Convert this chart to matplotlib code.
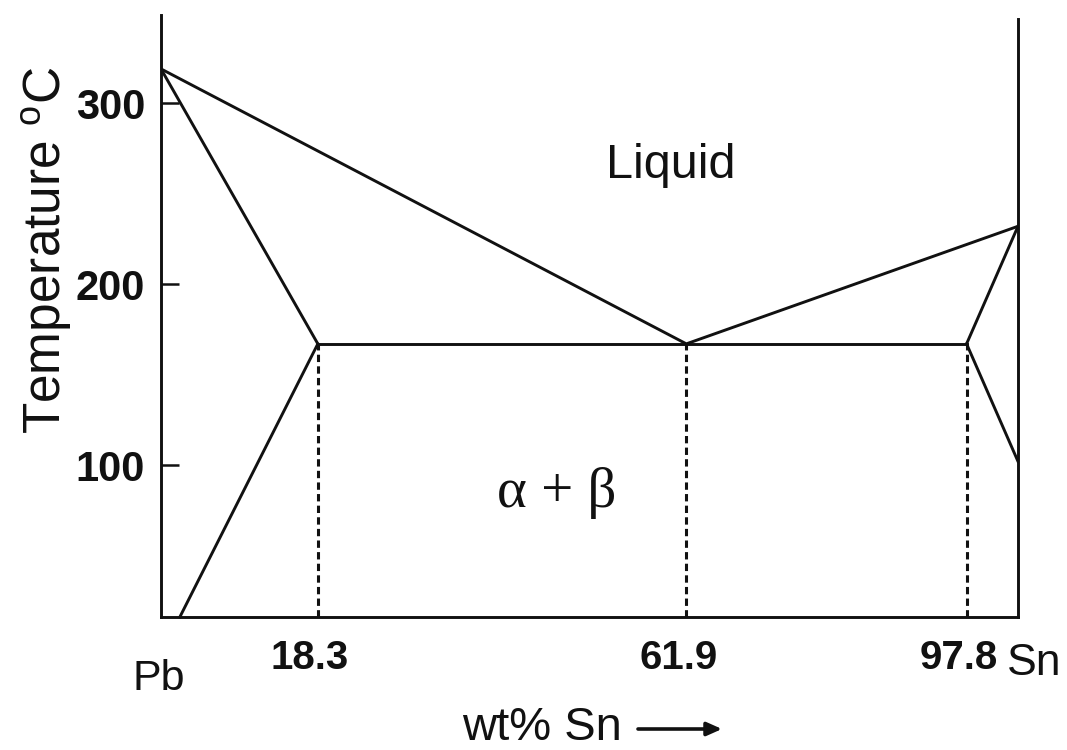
import matplotlib
matplotlib.use("Agg")
import matplotlib.pyplot as plt
from matplotlib.transforms import ScaledTranslation

plt.rcParams['font.family'] = ['Liberation Sans', 'DejaVu Sans']

# ---- data ----
# composition marks: drawn position on the schematic axis and printed label
comp_pos = [18.3, 61.3, 94.0]
comp_labels = ["18.3", "61.9", "97.8"]

T_pb = 319          # melting point of Pb (drawn)
T_sn = 232          # melting point of Sn (drawn)
T_eut = 167         # eutectic temperature (drawn)

# solvus end points
solvus_left_x = [18.3, 2.2]
solvus_left_T = [167, 16]
solvus_right_x = [94.0, 100]
solvus_right_T = [167, 102]

# liquidus
liquidus_x = [0, 61.3, 100]
liquidus_T = [T_pb, T_eut, T_sn]
# solidus
solidus_left_x = [0, 18.3]
solidus_left_T = [T_pb, T_eut]
solidus_right_x = [94.0, 100]
solidus_right_T = [T_eut, T_sn]

yticks = [100, 200, 300]
ylim = (16, 348.8)
xlim = (0, 100)

# ---- figure ----
fig = plt.figure(figsize=(10.67, 7.5), dpi=100)
ax = fig.add_axes([161/1067, (750-617)/750, (1018-161)/1067, (617-15)/750])
ax.set_xlim(*xlim)
ax.set_ylim(*ylim)

lw = 2.1
col = '#111111'
ax.plot(liquidus_x, liquidus_T, color=col, lw=lw, solid_joinstyle='miter')
ax.plot(solidus_left_x, solidus_left_T, color=col, lw=lw)
ax.plot(solidus_right_x, solidus_right_T, color=col, lw=lw)
ax.plot(solvus_left_x, solvus_left_T, color=col, lw=lw, clip_on=False)
ax.plot(solvus_right_x, solvus_right_T, color=col, lw=lw)
ax.plot([comp_pos[0], comp_pos[-1]], [T_eut, T_eut], color=col, lw=lw)
for xp in comp_pos:
    ax.plot([xp, xp], [ylim[0], T_eut], color=col, lw=2.2,
            linestyle=(0, (2.4, 1.4)))

# spines
for s in ['left', 'bottom', 'right']:
    ax.spines[s].set_linewidth(lw)
    ax.spines[s].set_color(col)
ax.spines['top'].set_visible(False)
ax.spines['right'].set_bounds(ylim[0], 346.6)

# ticks
ax.set_yticks(yticks)
ax.set_yticklabels([str(t) for t in yticks], fontsize=30, fontweight='bold')
ax.tick_params(axis='y', direction='in', length=13, width=1.8, pad=11.5,
               colors=col)
ax.set_xticks(comp_pos)
ax.set_xticklabels(comp_labels, fontsize=29, fontweight='bold')
ax.tick_params(axis='x', length=0, pad=16, colors=col)
for lbl in ax.get_xticklabels():
    lbl.set_transform(lbl.get_transform() +
                      ScaledTranslation(-8/100, 0, fig.dpi_scale_trans))

# region labels
ax.text(59.5, 258.7, "Liquid", fontsize=35, ha='center', va='baseline',
        color=col)
ax.text(46.2, 77, "α + β", fontsize=41, ha='center', va='baseline',
        family=['Liberation Serif', 'DejaVu Serif'], color=col)

# element labels
fig.text(159/1067, 1-690/750, "Pb", fontsize=31, ha='center', va='baseline',
         color=col)
fig.text(1034/1067, 1-675/750, "Sn", fontsize=32, ha='center', va='baseline',
         color=col)

# axis titles
fig.text(47/1067, 1-250/750, "Temperature $^{\\mathregular{o}}$C",
         fontsize=37, rotation=90, ha='center', va='center', color=col)
fig.text(462/1067, 1-740/750, "wt% Sn", fontsize=34, ha='left',
         va='baseline', color=col)
ax.annotate("", xy=(722, 750-729), xycoords='figure pixels',
            xytext=(638, 750-729), textcoords='figure pixels',
            arrowprops=dict(arrowstyle='-|>,head_length=0.9,head_width=0.4',
                            color=col, lw=2.6, shrinkA=0, shrinkB=0))

fig.savefig("out.png", dpi=100, facecolor='white')
